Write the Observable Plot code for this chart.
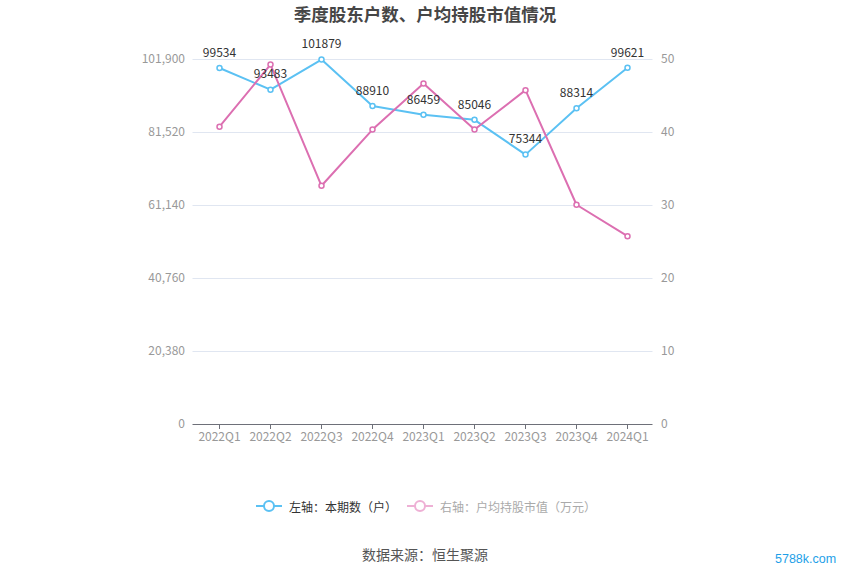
<!DOCTYPE html>
<html>
<head>
<meta charset="utf-8">
<script src="https://cdn.jsdelivr.net/npm/d3@7"></script>
<script src="https://cdn.jsdelivr.net/npm/@observablehq/plot@0.6"></script>
<style>
  html, body { margin: 0; padding: 0; background: #fff; }
  body { width: 850px; height: 575px; position: relative; overflow: hidden;
         font-family: "Noto Sans CJK SC", "Noto Sans", sans-serif; }
  #title { position: absolute; left: 0; top: 0; width: 850px; height: 30px; line-height: 27px;
           text-align: center; font-size: 17.5px; font-weight: bold; color: #464646; }
  #chart { position: absolute; left: 0; top: 30px; }
  #legend { position: absolute; left: 0; top: 494px; width: 850px; height: 24px; }
  .leg { position: absolute; top: 0; height: 24px; display: flex; align-items: center; font-size: 12px; }
  #caption { position: absolute; left: 0; top: 544px; width: 850px; text-align: center; font-size: 14px; color: #555; }
  #wm { position: absolute; left: 775px; top: 552px; font-size: 12.5px; color: #1e9fe8; font-family: "Liberation Sans", sans-serif; }
</style>
</head>
<body>
<div id="title">季度股东户数、户均持股市值情况</div>
<div id="chart"></div>
<div id="legend">
  <div class="leg" style="left:255px;color:#333;">
    <svg width="28" height="14" style="margin-right:6px"><line x1="1" y1="7" x2="27" y2="7" stroke="#5bc1f3" stroke-width="2"/><circle cx="14" cy="7" r="5" fill="#fff" stroke="#5bc1f3" stroke-width="2"/></svg>
    <span>左轴：本期数（户）</span>
  </div>
  <div class="leg" style="left:406px;color:#aaa;">
    <svg width="28" height="14" style="margin-right:6px"><line x1="1" y1="7" x2="27" y2="7" stroke="#eeb0d5" stroke-width="2"/><circle cx="14" cy="7" r="5" fill="#fff" stroke="#eeb0d5" stroke-width="2"/></svg>
    <span>右轴：户均持股市值（万元）</span>
  </div>
</div>
<div id="caption">数据来源：恒生聚源</div>
<div id="wm">5788k.com</div>
<script>
const quarters = ["2022Q1","2022Q2","2022Q3","2022Q4","2023Q1","2023Q2","2023Q3","2023Q4","2024Q1"];
const holders = [99534, 93483, 101879, 88910, 86459, 85046, 75344, 88314, 99621];
const avgValue = [40.8, 49.3, 32.7, 40.4, 46.7, 40.4, 45.8, 30.1, 25.8];
const leftTicks = [0, 20380, 40760, 61140, 81520, 101900];
const rightTicks = [0, 10, 20, 30, 40, 50];

const leftMax = 101900, rightMax = 50;
const k = leftMax / rightMax;
const blue = "#5bc1f3", pink = "#dc6fb1";

const holderData = quarters.map((q, i) => ({q, v: holders[i]}));
const avgData = quarters.map((q, i) => ({q, v: avgValue[i], y: avgValue[i] * k}));

const fmt = d3.format(",");
const chart = Plot.plot({
  width: 850,
  height: 430,
  marginTop: 29,
  marginBottom: 36,
  marginLeft: 192.5,
  marginRight: 197.5,
  style: {fontFamily: '"Noto Sans CJK SC", "Noto Sans", sans-serif', fontSize: "12px", background: "transparent", color: "#999"},
  x: {type: "point", domain: quarters, padding: 0.5, axis: null},
  y: {domain: [0, leftMax], axis: null},
  marks: [
    Plot.gridY(leftTicks.slice(1), {stroke: "#e0e6f1", strokeOpacity: 1, strokeWidth: 1}),
    Plot.axisY(leftTicks, {anchor: "left", tickSize: 0, tickPadding: 8, tickFormat: fmt, fill: "#999", label: null}),
    Plot.axisY(rightTicks.map(v => v * k), {anchor: "right", tickSize: 0, tickPadding: 8, tickFormat: d => String(Math.round(d / k)), fill: "#999", label: null}),
    Plot.ruleY([0], {stroke: "#6e7079", strokeWidth: 1}),
    Plot.axisX({tickSize: 5, tickPadding: 3, stroke: "#6e7079", fill: "#999", label: null}),
    Plot.line(holderData, {x: "q", y: "v", stroke: blue, strokeWidth: 2}),
    Plot.line(avgData, {x: "q", y: "y", stroke: pink, strokeWidth: 2}),
    Plot.dot(holderData, {x: "q", y: "v", r: 2.5, fill: "#fff", stroke: blue, strokeWidth: 1.5}),
    Plot.dot(avgData, {x: "q", y: "y", r: 2.5, fill: "#fff", stroke: pink, strokeWidth: 1.5}),
    Plot.text(holderData, {x: "q", y: "v", text: d => String(d.v), dy: -15, fill: "#333", fontSize: 12})
  ]
});
document.getElementById("chart").appendChild(chart);
</script>
</body>
</html>
